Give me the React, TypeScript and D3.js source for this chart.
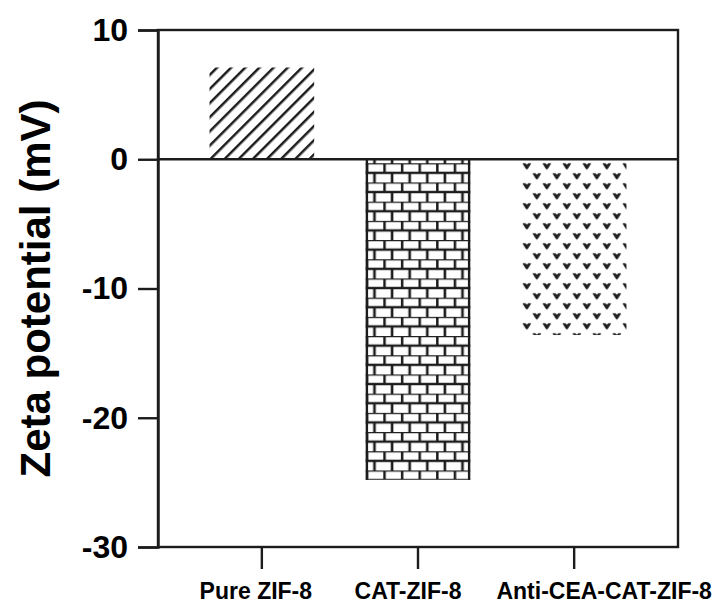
import React, { useRef, useEffect } from "react";
import * as d3 from "d3";

const categories = ["Pure ZIF-8", "CAT-ZIF-8", "Anti-CEA-CAT-ZIF-8"];
const zetaValues = [7.1, -24.8, -13.6];
const patternIds = ["hatch", "brick", "dots"];
const yTicks = [10, 0, -10, -20, -30];

const App = () => {
  const chart = useRef<SVGSVGElement>(null);

  useEffect(() => {
    const svg = d3.select(chart.current);
    svg.selectAll("*").remove();
    svg.attr("width", 720).attr("height", 603).style("background-color", "white");

    const ink = "#1c1c1c";
    const left = 158, right = 678, top = 30, bottom = 547;
    // label nudges so the long label fits like the original
    const labelShift = [-6, -10, 30];

    const x = d3.scaleBand().domain(categories).range([left, right])
      .paddingInner(0.33).paddingOuter(0.33);
    const y = d3.scaleLinear().domain([-30, 10]).range([bottom, top]);

    // patterns
    const defs = svg.append("defs");

    const hatch = defs.append("pattern").attr("id", "hatch")
      .attr("patternUnits", "userSpaceOnUse").attr("width", 10).attr("height", 10)
      .attr("patternTransform", "rotate(45)");
    hatch.append("rect").attr("width", 10).attr("height", 10).attr("fill", "white");
    hatch.append("line").attr("x1", 0).attr("y1", 0).attr("x2", 0).attr("y2", 10)
      .attr("stroke", ink).attr("stroke-width", 5);

    const bw = 17.6, bh = 9.6;
    const brick = defs.append("pattern").attr("id", "brick")
      .attr("patternUnits", "userSpaceOnUse").attr("width", bw).attr("height", bh * 2)
      .attr("x", x("CAT-ZIF-8")).attr("y", y(0) + 4);
    brick.append("rect").attr("width", bw).attr("height", bh * 2).attr("fill", "white");
    brick.append("path")
      .attr("d", `M0,0H${bw}M0,${bh}H${bw}M1.2,0V${bh}M${bw / 2},${bh}V${bh * 2}`)
      .attr("stroke", ink).attr("stroke-width", 2.6).attr("fill", "none");

    const dw = 20, dh = 10;
    const dots = defs.append("pattern").attr("id", "dots")
      .attr("patternUnits", "userSpaceOnUse").attr("width", dw).attr("height", dh * 2)
      .attr("x", x("Anti-CEA-CAT-ZIF-8")).attr("y", y(0) + 2);
    dots.append("rect").attr("width", dw).attr("height", dh * 2).attr("fill", "white");
    const vMark = (cx: number, cy: number) =>
      `M${cx - 3.8},${cy - 2.6}L${cx - 1.4},${cy - 2.6}L${cx},${cy - 0.8}L${cx + 1.4},${cy - 2.6}L${cx + 3.8},${cy - 2.6}L${cx + 0.4},${cy + 2.8}L${cx - 0.4},${cy + 2.8}Z`;
    dots.append("path")
      .attr("d", vMark(5, 5) + vMark(15, 15))
      .attr("fill", ink).attr("stroke", ink).attr("stroke-width", 0.9)
      .attr("stroke-linejoin", "round");

    // bars
    svg.append("g")
      .selectAll("rect")
      .data(categories)
      .join("rect")
        .attr("x", d => x(d)!)
        .attr("width", x.bandwidth())
        .attr("y", (d, i) => y(Math.max(0, zetaValues[i])))
        .attr("height", (d, i) => Math.abs(y(zetaValues[i]) - y(0)))
        .attr("fill", (d, i) => `url(#${patternIds[i]})`);

    // brick side edges
    const catX = x("CAT-ZIF-8")!;
    svg.append("path")
      .attr("d", `M${catX + 1.2},${y(0)}V${y(zetaValues[1])}M${catX + x.bandwidth() - 1.2},${y(0)}V${y(zetaValues[1])}`)
      .attr("stroke", ink).attr("stroke-width", 2.4);

    // frame
    svg.append("rect")
      .attr("x", left).attr("y", top).attr("width", right - left).attr("height", bottom - top)
      .attr("fill", "none").attr("stroke", ink).attr("stroke-width", 2.4);

    // zero line
    svg.append("line")
      .attr("x1", left).attr("x2", right).attr("y1", y(0)).attr("y2", y(0))
      .attr("stroke", ink).attr("stroke-width", 2.4);

    // y axis
    const yAxis = svg.append("g")
      .attr("transform", `translate(${left},0)`)
      .call(d3.axisLeft(y).tickValues(yTicks).tickSize(20).tickPadding(10).tickFormat(d => String(d)));
    yAxis.select(".domain").attr("stroke", ink).attr("stroke-width", 2.4);
    yAxis.selectAll(".tick line").attr("stroke", ink).attr("stroke-width", 2.4);
    yAxis.selectAll(".tick text")
      .attr("fill", "#000")
      .style("font-family", "'Liberation Sans', Arial, sans-serif")
      .style("font-weight", "bold")
      .style("font-size", "32px");

    // x axis
    const xAxis = svg.append("g")
      .attr("transform", `translate(0,${bottom})`)
      .call(d3.axisBottom(x).tickSize(22).tickPadding(14).tickSizeOuter(0));
    xAxis.select(".domain").remove();
    xAxis.selectAll(".tick line").attr("stroke", ink).attr("stroke-width", 2.4);
    xAxis.selectAll(".tick text")
      .attr("fill", "#000")
      .attr("dx", (d, i) => labelShift[i])
      .style("font-family", "'Liberation Sans', Arial, sans-serif")
      .style("font-weight", "bold")
      .style("font-size", "23px");

    // y title
    svg.append("text")
      .attr("transform", `translate(50,${(top + bottom) / 2}) rotate(-90)`)
      .attr("text-anchor", "middle")
      .style("font-family", "'Liberation Sans', Arial, sans-serif")
      .style("font-weight", "bold")
      .style("font-size", "42px")
      .text("Zeta potential (mV)");
  });

  return (
    <div style={{ position: "absolute", left: 0, top: 0 }}>
      <svg ref={chart}></svg>
    </div>
  );
};

export default App;
